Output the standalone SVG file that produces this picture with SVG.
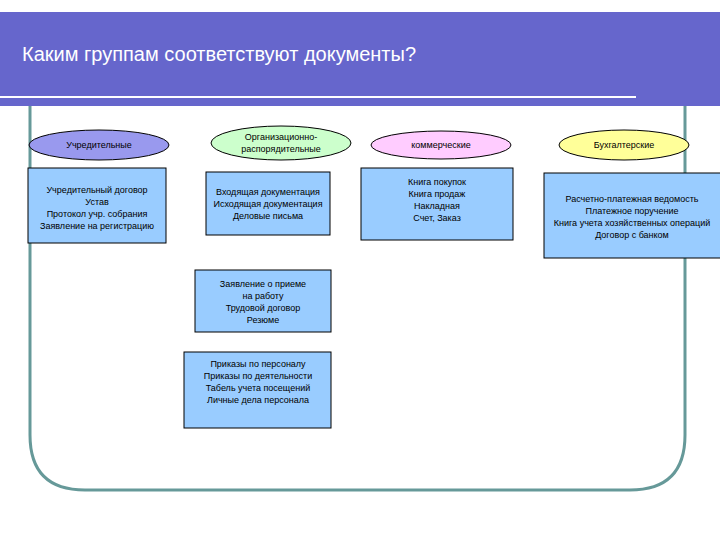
<svg xmlns="http://www.w3.org/2000/svg" width="720" height="540" viewBox="0 0 720 540">
<style>
.t{font-family:"Liberation Sans",Arial,sans-serif;font-size:9px;fill:#000;text-anchor:middle}
.b{fill:#99ccff;stroke:#000;stroke-width:1}
.e{stroke:#000;stroke-width:1}
</style>
<rect width="720" height="540" fill="#fff"/>
<rect x="0" y="12" width="720" height="94" fill="#6666cc"/>
<line x1="0" y1="97" x2="636" y2="97" stroke="#fff" stroke-width="2"/>
<text x="22" y="61" style="font-family:'Liberation Sans',Arial,sans-serif;font-size:20px;fill:#fff">Каким группам соответствуют документы?</text>
<path d="M30 106 V435 Q30 490 85 490 H630 Q685 490 685 435 V106" fill="none" stroke="#669999" stroke-width="3"/>
<g id="n1"><ellipse class="e" cx="99" cy="145" rx="70" ry="15" fill="#9999ee"/><text class="t" x="99" y="148">Учредительные</text></g>
<g id="n2"><ellipse class="e" cx="281" cy="143" rx="70" ry="17" fill="#ccffcc"/><text class="t" x="281" y="140">Организационно-</text><text class="t" x="281" y="152">распорядительные</text></g>
<g id="n3"><ellipse class="e" cx="441" cy="145" rx="70" ry="14" fill="#ffccff"/><text class="t" x="441" y="148">коммерческие</text></g>
<g id="n4"><ellipse class="e" cx="624" cy="145" rx="65" ry="15" fill="#ffff99"/><text class="t" x="624" y="148">Бухгалтерские</text></g>
<g id="b1"><rect class="b" x="28" y="168" width="138" height="75"/><text class="t" x="97" y="193">Учредительный договор</text><text class="t" x="97" y="205">Устав</text><text class="t" x="97" y="217">Протокол учр. собрания</text><text class="t" x="97" y="229">Заявление на регистрацию</text></g>
<g id="b2"><rect class="b" x="206" y="172" width="124" height="63"/><text class="t" x="268" y="195">Входящая документация</text><text class="t" x="268" y="207">Исходящая документация</text><text class="t" x="268" y="219">Деловые письма</text></g>
<g id="b3"><rect class="b" x="361" y="168" width="152" height="72"/><text class="t" x="437" y="185">Книга покупок</text><text class="t" x="437" y="197">Книга продаж</text><text class="t" x="437" y="209">Накладная</text><text class="t" x="437" y="221">Счет, Заказ</text></g>
<g id="b4"><rect class="b" x="544" y="173" width="178" height="85"/><text class="t" x="632" y="202">Расчетно-платежная ведомость</text><text class="t" x="632" y="214">Платежное поручение</text><text class="t" x="632" y="226">Книга учета хозяйственных операций</text><text class="t" x="632" y="238">Договор с банком</text></g>
<g id="b5"><rect class="b" x="195" y="270" width="136" height="62"/><text class="t" x="263" y="287">Заявление о приеме</text><text class="t" x="263" y="299">на работу</text><text class="t" x="263" y="311">Трудовой договор</text><text class="t" x="263" y="323">Резюме</text></g>
<g id="b6"><rect class="b" x="184" y="352" width="147" height="76"/><text class="t" x="258" y="367">Приказы по персоналу</text><text class="t" x="258" y="379">Приказы по деятельности</text><text class="t" x="258" y="391">Табель учета посещений</text><text class="t" x="258" y="403">Личные дела персонала</text></g>
<g id="connectors"/>
</svg>
